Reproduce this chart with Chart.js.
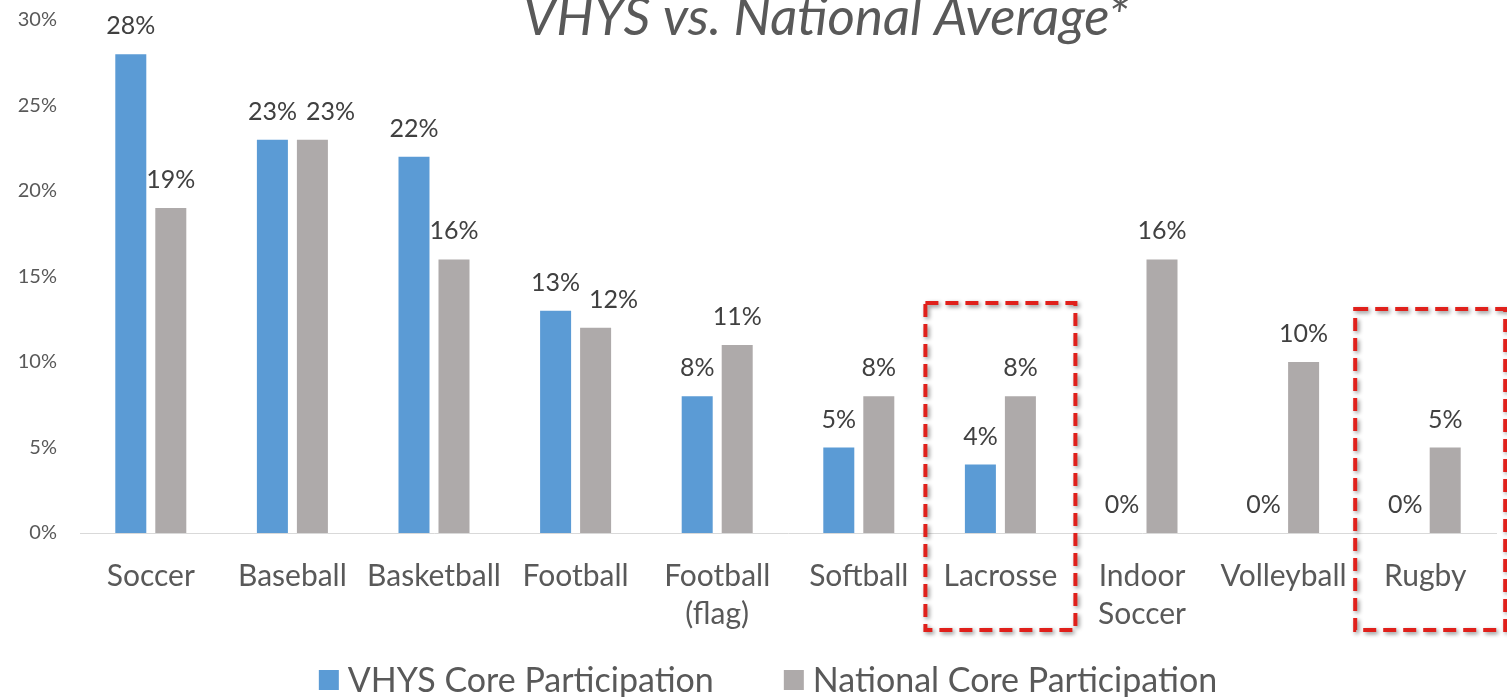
<!DOCTYPE html>
<html><head><meta charset="utf-8">
<script src="https://cdn.jsdelivr.net/npm/chart.js@4/dist/chart.umd.min.js"></script>
<style>html,body{margin:0;padding:0;background:#fff;}#wrap{width:1507px;height:697px;}</style>
</head><body><div id="wrap"><canvas id="c" width="1507" height="697"></canvas></div>
<script>
const categories = ["Soccer","Baseball","Basketball","Football",["Football","(flag)"],"Softball","Lacrosse",["Indoor","Soccer"],"Volleyball","Rugby"];
const vhysValues = [28,23,22,13,8,5,4,0,0,0];
const nationalValues = [19,23,16,12,11,8,8,16,10,5];
const seriesNames = ["VHYS Core Participation","National Core Participation"];
const seriesColors = ["#5B9BD5","#AEAAAA"];
const titleText = "VHYS vs. National Average*";
const highlightIndices = [6,9];

const FONT = "Lato, 'Open Sans', sans-serif";

const overlay = {
  id:'overlay',
  afterDatasetsDraw(chart){
    const ctx = chart.ctx;
    ctx.save();
    ctx.font = "25px " + FONT;
    ctx.fillStyle = "#404040";
    ctx.textAlign = "center";
    ctx.textBaseline = "alphabetic";
    const m0 = chart.getDatasetMeta(0).data, m1 = chart.getDatasetMeta(1).data;
    const d0 = chart.data.datasets[0].data, d1 = chart.data.datasets[1].data;
    m0.forEach((b0, i) => {
      const b1 = m1[i];
      const t0 = d0[i] + "%", t1 = d1[i] + "%";
      let x0 = b0.x, x1 = b1.x;
      const y0 = b0.y - 20, y1 = b1.y - 20;
      if (Math.abs(y0 - y1) < 26) {
        const need = ctx.measureText(t0).width/2 + ctx.measureText(t1).width/2 + 9;
        const deficit = need - (x1 - x0);
        if (deficit > 0) {
          const left = y0 > y1 ? deficit * 0.3 : 0;
          x0 -= left; x1 += deficit - left;
        }
      }
      ctx.fillText(t0, x0, y0);
      ctx.fillText(t1, x1, y1);
    });
    ctx.restore();
  },
  afterDraw(chart){
    const ctx = chart.ctx;
    const xs = chart.scales.x, ys = chart.scales.y, ca = chart.chartArea;
    // title
    ctx.save();
    ctx.font = "italic 52px " + FONT;
    ctx.fillStyle = "#595959";
    ctx.textAlign = "center";
    ctx.textBaseline = "alphabetic";
    const w = ctx.measureText(titleText).width;
    ctx.translate(826, 35);
    ctx.scale(606 / w, 1);
    ctx.fillText(titleText, 0, 0);
    ctx.restore();
    // legend
    ctx.save();
    ctx.font = "34px " + FONT;
    ctx.textBaseline = "middle";
    ctx.textAlign = "left";
    const box = 20, gapText = 9, gapItem = 70;
    const widths = chart.data.datasets.map(d => box + gapText + ctx.measureText(d.label).width);
    const total = widths.reduce((a,b)=>a+b,0) + gapItem*(widths.length-1);
    let x = 768 - total/2;
    const cy = 680;
    chart.data.datasets.forEach((d, i) => {
      ctx.fillStyle = d.backgroundColor;
      ctx.fillRect(x, cy - box/2, box, box);
      ctx.fillStyle = "#595959";
      ctx.fillText(d.label, x + box + gapText, cy + 1);
      x += widths[i] + gapItem;
    });
    ctx.restore();
    // dashed highlight boxes
    ctx.save();
    highlightIndices.forEach((idx, k) => {
      const cx = xs.getPixelForValue(idx) + (k === 1 ? 5 : 0);
      const top = ys.getPixelForValue(k === 1 ? 13.1 : 13.45);
      const bottom = ca.bottom + 97;
      ctx.shadowColor = "rgba(0,0,0,0.45)";
      ctx.shadowBlur = 4;
      ctx.shadowOffsetX = 2;
      ctx.shadowOffsetY = 2;
      ctx.strokeStyle = "#E0201B";
      ctx.lineWidth = 4;
      ctx.setLineDash([13,7]);
      ctx.strokeRect(cx - 75, top, 150, bottom - top);
    });
    ctx.restore();
  }
};

new Chart(document.getElementById('c'), {
  type:'bar',
  data:{
    labels: categories,
    datasets:[
      {label: seriesNames[0], data: vhysValues, backgroundColor:seriesColors[0], categoryPercentage:0.565, barPercentage:0.775},
      {label: seriesNames[1], data: nationalValues, backgroundColor:seriesColors[1], categoryPercentage:0.565, barPercentage:0.775}
    ]
  },
  options:{
    responsive:false,
    animation:false,
    layout:{padding:{top:20,right:11,left:0,bottom:60}},
    plugins:{
      legend:{display:false},
      tooltip:{enabled:false},
      title:{display:false}
    },
    scales:{
      x:{
        grid:{display:false,drawTicks:false},
        border:{display:true,color:"#D9D9D9",width:1},
        ticks:{font:{family:FONT,size:30,lineHeight:1.27},color:"#595959",padding:24,maxRotation:0,autoSkip:false},
        afterFit(s){ s.height = 104; s.paddingLeft = 0; s.paddingRight = 0; }
      },
      y:{
        min:0,max:30,
        grid:{display:false,drawTicks:false},
        border:{display:false},
        ticks:{stepSize:5,font:{family:FONT,size:20},color:"#595959",padding:23,callback:v=>v+"%"},
        afterFit(s){ s.width = 80; s.paddingTop = 0; s.paddingBottom = 0; }
      }
    }
  },
  plugins:[overlay]
});
</script>
</body></html>
